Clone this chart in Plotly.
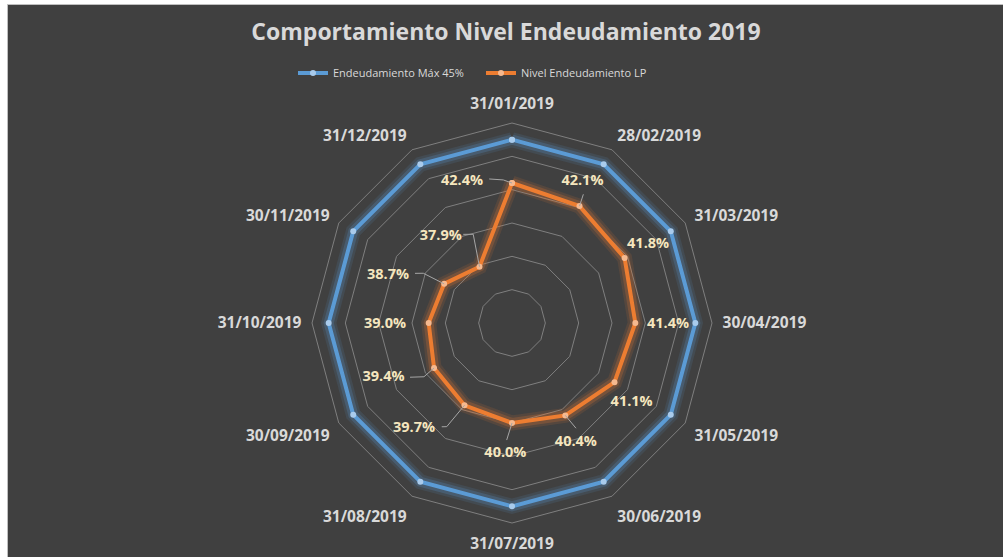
import plotly.graph_objects as go

# ---------------- data ----------------
categories = ["31/01/2019", "28/02/2019", "31/03/2019", "30/04/2019", "31/05/2019", "30/06/2019",
              "31/07/2019", "31/08/2019", "30/09/2019", "31/10/2019", "30/11/2019", "31/12/2019"]
max_pct = [45.0, 45.0, 45.0, 45.0, 45.0, 45.0, 45.0, 45.0, 45.0, 45.0, 45.0, 45.0]
nivel_lp = [42.4, 42.1, 41.8, 41.4, 41.1, 40.4, 40.0, 39.7, 39.4, 39.0, 38.7, 37.9]
radial_range = [34, 46]
radial_step = 2

# label placement (offsets from each point: radial %, angle degrees)
label_dr = [0.63, 1.37, 1.64, 1.96, 1.50, 1.74, 1.81, 2.92, 2.96, 2.62, 3.28, 2.85]
label_dth = [-19.4, -3.5, -0.1, 0.4, 3.4, 1.9, 2.9, 13.0, 7.2, -0.5, -8.8, -9.3]
# leader lines: index -> list of (dr, dtheta) vertices after the point
leaders = {
    0: [(0.2, -3.5), (0.35, -9.0)],
    1: [(0.73, -1.0)],
    5: [(0.99, -1.3)],
    6: [(1.03, 2.6)],
    7: [(1.65, 2.2), (1.82, 4.1)],
    8: [(0.79, -1.4), (1.53, 2.0)],
    10: [(1.4, -0.7), (1.84, -2.9)],
    11: [(1.91, 6.4), (2.17, 1.2)],
}

BG = "#404040"
GRID = "#7F7F7F"
TXT = "#D9D9D9"
BLUE = "#5B9BD5"
ORANGE = "#ED7D31"
LABEL = "#F5E6BE"
FONT = "Open Sans"

step = 360 / len(categories)

theta_c = categories + [categories[0]]
blue_r = max_pct + [max_pct[0]]
orng_r = nivel_lp + [nivel_lp[0]]

fig = go.Figure()

# glow layers
for w, a in [(15, 0.12), (10, 0.22)]:
    fig.add_trace(go.Scatterpolar(r=blue_r, theta=theta_c, mode="lines",
                                  line=dict(color=f"rgba(91,155,213,{a})", width=w),
                                  showlegend=False, hoverinfo="skip", subplot="polar"))
    fig.add_trace(go.Scatterpolar(r=orng_r, theta=theta_c, mode="lines",
                                  line=dict(color=f"rgba(237,125,49,{a})", width=w),
                                  showlegend=False, hoverinfo="skip", subplot="polar"))

fig.add_trace(go.Scatterpolar(r=blue_r, theta=theta_c, mode="lines+markers",
                              name="Endeudamiento Máx 45%",
                              line=dict(color=BLUE, width=4),
                              marker=dict(size=6, color="#A9CBEC", line=dict(width=0)),
                              subplot="polar"))
fig.add_trace(go.Scatterpolar(r=orng_r, theta=theta_c, mode="lines+markers",
                              name="Nivel Endeudamiento LP",
                              line=dict(color=ORANGE, width=4),
                              marker=dict(size=6, color="#F6B98F", line=dict(width=0)),
                              subplot="polar"))

# leader lines (overlay polar with numeric angles)
lr, lt = [], []
for i, pts in leaders.items():
    lr.append(nivel_lp[i]); lt.append(i * step)
    for dr, dt in pts:
        lr.append(nivel_lp[i] + dr); lt.append(i * step + dt)
    lr.append(None); lt.append(None)
fig.add_trace(go.Scatterpolar(r=lr, theta=lt, mode="lines", connectgaps=False,
                              line=dict(color="#A6A6A6", width=1),
                              showlegend=False, hoverinfo="skip", subplot="polar2"))

# data labels
fig.add_trace(go.Scatterpolar(
    r=[v + d for v, d in zip(nivel_lp, label_dr)],
    theta=[i * step + d for i, d in enumerate(label_dth)],
    mode="text", text=[f"{v:.1f}%" for v in nivel_lp],
    textfont=dict(family=FONT, size=14.5, color=LABEL, weight="bold"),
    textposition="middle center", showlegend=False, hoverinfo="skip", subplot="polar2"))

W, H = 1003, 557
cx, cy, R = 512, 323, 200
dom_x = [(cx - R) / W, (cx + R) / W]
dom_y = [1 - (cy + R) / H, 1 - (cy - R) / H]

fig.update_layout(
    width=W, height=H, autosize=False,
    margin=dict(l=0, r=0, t=0, b=0),
    paper_bgcolor="white",
    plot_bgcolor=BG,
    title=dict(text="Comportamiento Nivel Endeudamiento 2019", x=506 / W, xanchor="center",
               y=1 - 32 / H, yanchor="middle",
               font=dict(family=FONT, size=23, color=TXT, weight="bold")),
    legend=dict(orientation="h", x=293 / W, xanchor="left", y=1 - 73 / H, yanchor="middle",
                font=dict(family=FONT, size=11, color=TXT), bgcolor="rgba(0,0,0,0)",
                itemwidth=30, entrywidth=143, entrywidthmode="pixels"),
    shapes=[dict(type="rect", xref="paper", yref="paper", x0=7.5 / W, x1=1.05, y0=-0.05,
                 y1=1 - 4.5 / H, fillcolor=BG, line=dict(color="#BFBFBF", width=1), layer="below")],
    polar=dict(
        domain=dict(x=dom_x, y=dom_y),
        bgcolor="rgba(0,0,0,0)",
        gridshape="linear",
        angularaxis=dict(type="category", rotation=90, direction="clockwise",
                         showgrid=False, showline=True, linecolor=GRID, linewidth=1,
                         ticks="outside", ticklen=7, tickcolor="rgba(0,0,0,0)",
                         tickfont=dict(family=FONT, size=15.5, color=TXT, weight="bold")),
        radialaxis=dict(range=radial_range, dtick=radial_step, tick0=radial_range[0],
                        showticklabels=False, ticks="", showline=False,
                        gridcolor=GRID, gridwidth=1),
    ),
    polar2=dict(
        domain=dict(x=dom_x, y=dom_y),
        bgcolor="rgba(0,0,0,0)",
        angularaxis=dict(type="linear", rotation=90, direction="clockwise", thetaunit="degrees",
                         showgrid=False, showline=False, showticklabels=False, ticks=""),
        radialaxis=dict(range=radial_range, visible=False, showgrid=False),
    ),
)

fig.write_html("out.html", config={"displayModeBar": False},
               post_script="document.body.style.margin='0px';document.body.style.overflow='hidden';")
